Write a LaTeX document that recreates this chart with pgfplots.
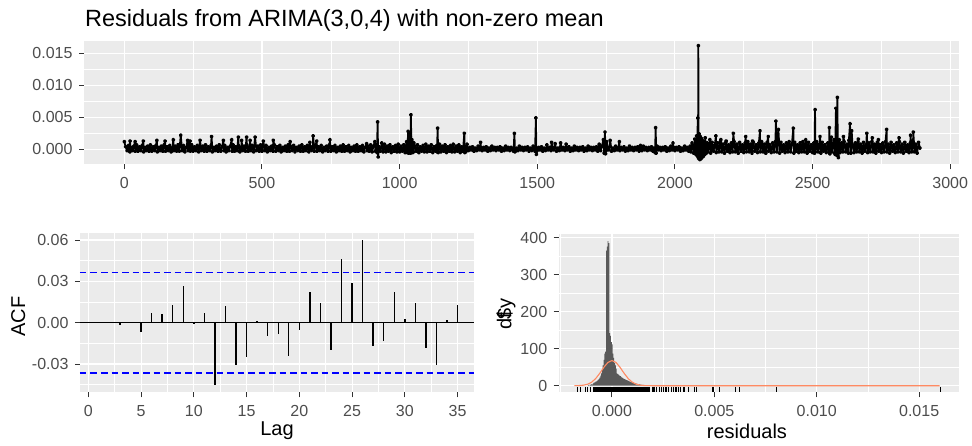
\documentclass[border=0pt]{standalone}
\usepackage{fontspec}
\setmainfont{Liberation Sans}
\usepackage{pgfplots}
\pgfplotsset{compat=1.18}
\definecolor{panelbg}{HTML}{EBEBEB}
\definecolor{tickc}{HTML}{333333}
\definecolor{ticklab}{HTML}{4D4D4D}
\definecolor{histc}{HTML}{595959}
\definecolor{normc}{HTML}{FF8A62}
\definecolor{acfblue}{HTML}{0000FF}
\pgfplotsset{
  gg/.style={
    scale only axis,
    axis background/.style={fill=panelbg},
    axis line style={draw=none},
    grid=both,
    major grid style={white, line width=1.1pt},
    minor grid style={white, line width=0.55pt},
    tick align=outside,
    tick pos=left,
    major tick length=5pt,
    minor tick length=0pt,
    tick style={draw=tickc, line width=1pt},
    ticklabel style={font=\fontsize{16}{18}\selectfont, text=ticklab},
    xticklabel style={yshift=-4.5pt},
    yticklabel style={xshift=-3pt},
    label style={font=\fontsize{20}{22}\selectfont, text=black},
    /pgf/number format/assume math mode=true,
    scaled ticks=false,
    clip=true,
  }
}
\begin{document}
\begin{tikzpicture}
\path[use as bounding box] (0,0) rectangle (972pt,446pt);
% ---------------- top panel: residual series ----------------
\begin{axis}[gg,
  at={(84pt,281.7pt)}, anchor=south west,
  width=875.3pt, height=123.6pt,
  xmin=-146.4, xmax=3033, ymin=-0.00234, ymax=0.01697,
  xtick={0,500,1000,1500,2000,2500,3000},
  xticklabels={0,500,1000,1500,2000,2500,3000},
  minor xtick={250,750,1250,1750,2250,2750},
  ytick={0,0.005,0.01,0.015},
  yticklabels={0.000,0.005,0.010,0.015},
  minor ytick={0.0025,0.0075,0.0125},
  title={Residuals from ARIMA(3,0,4) with non-zero mean},
  title style={at={(rel axis cs:0,1)}, anchor=base west, xshift=1pt, yshift=8pt,
    font=\fontsize{23.5}{26}\selectfont, inner sep=0pt},
]
\addplot[black, line width=1.8pt, line join=round, mark=*, mark size=1.1pt] coordinates {
(0,0.0012)(5,0.0004)(10,-0.0002)(15,0.0006)(20,-0.0004)(21,0.0013)(22,-0.0002)(25,0.0003)(30,-0.0002)(35,0.0005)(39,0.0012)(40,-0.0003)(45,0.0007)
(50,-0.0003)(55,0.0004)(60,-0.0002)(65,0.0006)(69,0.0013)(70,-0.0004)(75,0.0003)(80,-0.0002)(85,0.0005)(90,-0.0003)(95,0.0007)
(100,-0.0003)(105,0.0004)(110,-0.0002)(115,0.0006)(118,0.0014)(120,-0.0004)(125,0.0003)(130,-0.0002)(135,0.0005)(140,-0.0003)(145,0.0007)(148,0.0013)
(150,-0.0003)(155,0.0004)(160,-0.0002)(165,0.0006)(170,-0.0004)(175,0.0003)(178,0.0015)(180,-0.0002)(185,0.0005)(190,-0.0003)(195,0.0007)
(200,-0.0003)(205,0.0022)(210,-0.0002)(215,0.0006)(220,-0.0004)(225,0.0003)(230,0.0014)(232,-0.0002)(235,0.0005)(239,0.0013)(240,-0.0003)(245,0.0007)
(250,-0.0003)(255,0.0004)(260,-0.0002)(265,0.0006)(270,-0.0004)(275,0.0014)(280,-0.0002)(285,0.0005)(290,-0.0003)(295,0.0007)
(300,-0.0003)(305,0.0004)(310,-0.0002)(315,0.0006)(317,0.0020)(320,-0.0004)(325,0.0003)(330,-0.0002)(335,0.0005)(340,-0.0003)(345,0.0007)
(350,-0.0003)(355,0.0004)(360,0.0014)(362,-0.0002)(365,0.0006)(370,-0.0004)(375,0.0003)(380,-0.0002)(385,0.0005)(390,0.0015)(392,-0.0003)(395,0.0007)
(400,-0.0003)(405,0.0004)(410,-0.0002)(414,0.0019)(415,0.0006)(420,-0.0004)(425,0.0003)(426,0.0014)(430,-0.0002)(435,0.0005)(440,-0.0003)(444,0.0019)(445,0.0007)
(450,-0.0003)(455,0.0004)(457,0.0014)(460,-0.0002)(465,0.0006)(470,-0.0004)(475,0.0019)(480,-0.0002)(485,0.0005)(490,-0.0003)(495,0.0007)
(500,-0.0003)(505,0.0013)(510,-0.0002)(515,0.0006)(520,-0.0004)(525,0.0003)(530,-0.0002)(535,0.0005)(540,-0.0003)(541,0.0014)(545,0.0007)
(550,-0.0003)(555,0.0004)(560,-0.0002)(565,0.0006)(570,-0.0004)(575,0.0003)(580,-0.0002)(585,0.0005)(590,-0.0003)(595,0.0007)
(600,-0.0003)(602,0.0012)(605,0.0004)(610,-0.0002)(615,0.0006)(620,-0.0004)(625,0.0003)(630,-0.0002)(635,0.0005)(640,-0.0003)(645,0.0007)
(650,-0.0003)(655,0.0004)(660,-0.0002)(665,0.0006)(670,-0.0004)(674,0.0011)(675,0.0003)(680,-0.0002)(685,0.0005)(686,0.0021)(690,-0.0003)(695,0.0007)
(699,0.0013)(700,-0.0003)(705,0.0004)(710,-0.0002)(715,0.0006)(720,-0.0004)(725,0.0003)(730,-0.0002)(735,0.0005)(740,-0.0003)(745,0.0007)(747,0.0015)
(750,-0.0003)(755,0.0004)(760,-0.0002)(765,0.0006)(770,-0.0004)(775,0.0003)(780,-0.0002)(785,0.0005)(790,-0.0003)(795,0.0007)
(800,-0.0003)(805,0.0004)(810,-0.0002)(815,0.0006)(820,-0.0004)(825,0.0003)(830,-0.0002)(835,0.0005)(840,-0.0003)(845,0.0007)
(850,-0.0003)(855,0.0004)(860,-0.0002)(865,0.0006)(870,-0.0004)(875,0.0003)(880,0.0009)(882,-0.0002)(885,0.0005)(890,-0.0003)(895,0.0007)
(900,-0.0004)(905,0.0005)(910,0.0012)(912,-0.0003)(915,0.0007)(918,-0.0005)(920,0.0043)(922,-0.0012)(925,0.0004)(930,-0.0003)(935,0.0010)(940,-0.0004)(945,0.0008)
(950,-0.0004)(955,0.0005)(960,-0.0003)(965,0.0007)(970,-0.0005)(975,0.0004)(980,-0.0003)(985,0.0006)(990,-0.0004)(995,0.0008)
(1000,-0.0004)(1005,0.0005)(1010,-0.0003)(1015,0.0007)(1020,-0.0005)(1025,0.0012)(1028,-0.0005)(1031,0.0028)(1033,-0.0006)(1035,0.0025)(1037,-0.0005)(1039,0.0020)(1040,-0.0006)(1041,0.0054)(1043,-0.0004)(1045,0.0015)(1048,-0.0005)
(1050,-0.0004)(1052,0.0010)(1055,0.0005)(1060,-0.0003)(1065,0.0007)(1070,-0.0005)(1075,0.0004)(1080,-0.0003)(1085,0.0006)(1090,-0.0004)(1095,0.0008)
(1100,-0.0004)(1105,0.0005)(1110,-0.0003)(1115,0.0007)(1120,-0.0005)(1125,0.0004)(1130,-0.0003)(1135,0.0006)(1136,-0.0004)(1138,0.0033)(1140,-0.0005)(1145,0.0008)
(1150,-0.0004)(1155,0.0005)(1160,-0.0003)(1165,0.0007)(1170,-0.0005)(1175,0.0004)(1180,-0.0003)(1185,0.0006)(1190,-0.0004)(1195,0.0008)
(1200,-0.0004)(1205,0.0005)(1210,-0.0003)(1215,0.0007)(1220,-0.0005)(1225,0.0004)(1230,-0.0003)(1235,0.0025)(1237,-0.0005)(1240,-0.0004)(1245,0.0008)
(1250,-0.0002)(1255,0.0003)(1260,-0.0001)(1265,0.0004)(1270,-0.0003)(1275,0.0002)(1280,-0.0002)(1285,0.0005)(1290,-0.0001)(1294,0.0011)(1295,0.0003)
(1300,-0.0002)(1305,0.0003)(1310,-0.0001)(1315,0.0004)(1320,-0.0003)(1325,0.0002)(1330,-0.0002)(1335,0.0005)(1340,-0.0001)(1345,0.0003)
(1350,-0.0002)(1355,0.0003)(1360,-0.0001)(1365,0.0004)(1370,-0.0003)(1375,0.0002)(1380,-0.0002)(1385,0.0005)(1390,-0.0001)(1395,0.0003)
(1400,-0.0002)(1405,0.0003)(1410,-0.0001)(1414,-0.0003)(1417,0.0025)(1419,-0.0004)(1420,-0.0003)(1425,0.0002)(1430,-0.0002)(1435,0.0005)(1440,-0.0001)(1445,0.0003)
(1450,-0.0002)(1455,0.0003)(1460,-0.0001)(1465,0.0004)(1470,-0.0003)(1475,0.0002)(1480,-0.0002)(1485,0.0005)(1490,-0.0001)(1492,-0.0003)(1495,0.0049)(1497,-0.0008)
(1500,-0.0002)(1505,0.0003)(1510,-0.0001)(1515,0.0004)(1520,-0.0003)(1525,0.0002)(1530,-0.0002)(1535,0.0007)(1540,-0.0001)(1545,0.0003)
(1550,-0.0002)(1552,0.0011)(1555,0.0003)(1560,-0.0001)(1565,0.0009)(1570,-0.0003)(1575,0.0002)(1580,-0.0002)(1585,0.0010)(1590,-0.0001)(1595,0.0003)
(1600,-0.0002)(1605,0.0008)(1610,-0.0001)(1615,0.0004)(1620,-0.0003)(1625,0.0002)(1630,-0.0002)(1635,0.0005)(1640,-0.0001)(1645,0.0003)
(1650,-0.0002)(1655,0.0003)(1660,-0.0001)(1665,0.0004)(1670,-0.0003)(1675,0.0002)(1680,-0.0002)(1685,0.0005)(1690,-0.0001)(1695,0.0003)
(1700,-0.0002)(1705,0.0003)(1710,-0.0001)(1715,0.0004)(1720,-0.0003)(1725,0.0008)(1730,-0.0002)(1735,0.0005)(1740,0.0015)(1743,-0.0006)(1746,0.0027)(1748,-0.0007)
(1750,-0.0002)(1752,0.0012)(1755,0.0003)(1760,-0.0001)(1765,0.0014)(1770,-0.0003)(1775,0.0002)(1780,-0.0002)(1785,0.0005)(1790,-0.0001)(1795,0.0003)(1798,0.0012)
(1800,-0.0002)(1805,0.0003)(1810,-0.0001)(1815,0.0004)(1820,-0.0003)(1825,0.0002)(1830,-0.0002)(1835,0.0005)(1840,-0.0001)(1845,0.0003)
(1850,-0.0002)(1855,0.0003)(1860,-0.0001)(1865,0.0004)(1870,-0.0003)(1875,0.0006)(1880,-0.0002)(1885,0.0005)(1890,-0.0001)(1895,0.0003)
(1900,-0.0002)(1905,0.0003)(1910,-0.0001)(1915,0.0004)(1920,-0.0003)(1925,0.0002)(1928,-0.0005)(1930,0.0034)(1932,-0.0006)(1935,0.0005)(1940,-0.0001)(1945,0.0003)
(1950,-0.0002)(1955,0.0003)(1960,-0.0001)(1965,0.0004)(1970,-0.0003)(1975,0.0002)(1980,-0.0002)(1985,0.0005)(1990,-0.0001)(1993,0.0010)(1995,0.0003)
(2000,-0.0002)(2005,0.0003)(2010,-0.0001)(2015,0.0004)(2020,-0.0003)(2025,0.0002)(2030,-0.0002)(2035,0.0005)(2040,-0.0001)(2045,0.0003)
(2050,-0.0003)(2055,0.0005)(2058,-0.0004)(2062,0.0010)(2068,-0.0006)(2072,0.0016)(2076,-0.0008)(2079,0.0021)(2081,-0.0010)(2083,0.0049)(2084,-0.0012)(2085,0.0162)
(2086,-0.0014)(2088,0.0024)(2090,-0.0016)(2092,0.0020)(2094,-0.0015)(2096,0.0017)(2098,-0.0013)(2100,0.0014)(2103,-0.0011)(2106,0.0012)(2109,-0.0008)(2110,0.0018)(2114,-0.0006)
(2117,0.0010)(2120,-0.0004)(2125,0.0008)(2127,0.0015)(2130,-0.0006)(2135,0.0011)(2140,-0.0003)(2145,0.0007)(2149,0.0021)(2150,-0.0005)(2155,0.0010)(2160,-0.0004)(2165,0.0012)(2167,0.0015)
(2170,-0.0004)(2175,0.0008)(2180,-0.0006)(2185,0.0011)(2186,0.0013)(2190,-0.0003)(2195,0.0007)(2200,-0.0005)(2205,0.0010)(2210,-0.0004)(2212,0.0025)(2215,0.0012)
(2220,-0.0004)(2225,0.0008)(2230,-0.0006)(2235,0.0011)(2240,-0.0003)(2245,0.0007)(2250,-0.0005)(2255,0.0010)(2257,0.0020)(2260,-0.0004)(2265,0.0012)
(2270,-0.0004)(2275,0.0008)(2280,-0.0006)(2282,0.0013)(2285,0.0011)(2290,-0.0003)(2295,0.0007)(2300,-0.0005)(2305,0.0010)(2309,0.0029)(2310,-0.0004)(2315,0.0012)
(2320,-0.0004)(2325,0.0008)(2330,-0.0006)(2335,0.0011)(2339,0.0020)(2340,-0.0003)(2345,0.0007)(2350,-0.0005)(2355,0.0010)(2360,-0.0004)(2365,0.0012)(2367,0.0044)
(2370,-0.0004)(2373,0.0018)(2375,0.0008)(2376,0.0031)(2380,-0.0006)(2385,0.0011)(2390,-0.0003)(2395,0.0007)(2400,-0.0005)(2405,0.0010)(2410,-0.0004)(2415,0.0012)
(2420,-0.0004)(2425,0.0008)(2430,0.0033)(2432,-0.0006)(2435,0.0011)(2440,-0.0003)(2445,0.0007)(2450,-0.0005)(2455,0.0010)(2460,-0.0004)(2465,0.0012)
(2470,-0.0004)(2475,0.0015)(2480,-0.0006)(2485,0.0011)(2490,-0.0003)(2495,0.0007)(2500,-0.0005)(2505,0.0010)(2507,-0.0006)(2509,0.0062)(2510,-0.0004)(2515,0.0012)
(2520,-0.0004)(2525,0.0008)(2527,0.0020)(2530,-0.0006)(2535,0.0011)(2540,-0.0003)(2545,0.0007)(2550,-0.0005)(2555,0.0010)(2560,-0.0004)(2561,0.0034)(2563,-0.0007)(2565,0.0012)
(2568,0.0019)(2570,-0.0004)(2575,0.0008)(2578,0.0015)(2580,-0.0006)(2582,-0.0008)(2585,0.0064)(2587,-0.0009)(2590,0.0081)(2592,-0.0010)(2594,-0.0013)(2597,0.0015)(2600,-0.0005)(2605,0.0010)(2610,-0.0004)(2612,0.0020)(2615,0.0012)
(2620,-0.0004)(2625,0.0008)(2630,-0.0006)(2632,0.0014)(2636,0.0040)(2639,-0.0006)(2642,0.0029)(2645,0.0007)(2650,-0.0005)(2655,0.0010)(2660,-0.0004)(2665,0.0012)(2666,0.0016)
(2670,-0.0004)(2675,0.0008)(2680,-0.0006)(2685,0.0011)(2690,-0.0003)(2695,0.0007)(2697,0.0025)(2700,-0.0005)(2705,0.0010)(2710,-0.0004)(2715,0.0012)(2717,0.0018)
(2720,-0.0004)(2725,0.0008)(2730,-0.0006)(2735,0.0011)(2739,0.0015)(2740,-0.0003)(2745,0.0007)(2750,-0.0005)(2755,0.0010)(2760,-0.0004)(2765,0.0012)(2769,0.0031)
(2770,-0.0004)(2775,0.0008)(2780,-0.0006)(2785,0.0011)(2790,-0.0003)(2795,0.0007)(2800,-0.0005)(2805,0.0010)(2810,-0.0004)(2814,0.0018)(2815,0.0012)
(2820,-0.0004)(2825,0.0008)(2830,-0.0006)(2835,0.0011)(2840,-0.0003)(2845,0.0007)(2850,-0.0005)(2855,0.0010)(2856,0.0022)(2860,-0.0004)(2865,0.0012)(2866,0.0027)
(2870,-0.0004)(2875,0.0008)(2880,-0.0006)(2885,0.0011)(2890,0.0002)
};
\end{axis}
% ---------------- bottom left: ACF ----------------
\begin{axis}[gg,
  at={(80pt,53.7pt)}, anchor=south west,
  width=394pt, height=159pt,
  xmin=-0.79, xmax=36.56, ymin=-0.0505, ymax=0.0649,
  xtick={0,5,10,15,20,25,30,35},
  xticklabels={0,5,10,15,20,25,30,35},
  minor xtick={2.5,7.5,12.5,17.5,22.5,27.5,32.5},
  ytick={-0.03,0,0.03,0.06},
  yticklabels={-0.03,0.00,0.03,0.06},
  minor ytick={-0.045,-0.015,0.015,0.045},
  xlabel={Lag}, ylabel={ACF},
  xlabel style={at={(axis description cs:0.5,-0.24)}, anchor=center},
  ylabel style={at={(axis description cs:-0.157,0.475)}, anchor=center},
]
\addplot[black, line width=1.2pt, forget plot] coordinates {(-0.79,0)(36.56,0)};
\addplot[acfblue, line width=1.2pt, dash pattern=on 6.5pt off 4pt, forget plot] coordinates {(-0.79,0.0365)(36.56,0.0365)};
\addplot[acfblue, line width=1.2pt, dash pattern=on 6.5pt off 4pt, forget plot] coordinates {(-0.79,-0.0365)(36.56,-0.0365)};
\addplot[ycomb, black, line width=1.4pt, mark=none] coordinates {
(1,0)(2,0)(3,-0.002)(4,0)(5,-0.007)(6,0.007)(7,0.006)(8,0.013)(9,0.027)(10,-0.001)
(11,0.007)(12,-0.045)(13,0.012)(14,-0.031)(15,-0.025)(16,0.001)(17,-0.010)(18,-0.008)(19,-0.024)(20,-0.005)
(21,0.022)(22,0.014)(23,-0.020)(24,0.046)(25,0.029)(26,0.060)(27,-0.017)(28,-0.013)(29,0.022)(30,0.003)
(31,0.014)(32,-0.018)(33,-0.031)(34,0.002)(35,0.013)
};
\end{axis}
% ---------------- bottom right: histogram ----------------
\begin{axis}[gg,
  at={(558.7pt,53.7pt)}, anchor=south west,
  width=400.6pt, height=158.3pt,
  xmin=-0.0026, xmax=0.01696, ymin=-17.8, ymax=410,
  xtick={0,0.005,0.01,0.015},
  xticklabels={0.000,0.005,0.010,0.015},
  minor xtick={-0.0025,0.0025,0.0075,0.0125},
  ytick={0,100,200,300,400},
  yticklabels={0,100,200,300,400},
  minor ytick={50,150,250,350},
  xlabel={residuals}, ylabel={df\kern-0.32em\$y},
  xlabel style={at={(axis description cs:0.47,-0.249)}, anchor=center},
  ylabel style={at={(axis description cs:-0.1316,0.495)}, anchor=center},
]
\addplot[ybar interval, fill=histc, draw=none, forget plot] coordinates {
(-0.00117,2)(-0.00113,0)(-0.00109,3)(-0.00105,2)(-0.00101,4)(-0.00097,3)(-0.00093,6)(-0.00089,8)(-0.00085,9)(-0.00081,11)
(-0.00077,12)(-0.00073,14)(-0.00069,16)(-0.00065,18)(-0.00061,22)(-0.00057,27)(-0.00053,33)(-0.00049,42)(-0.00045,55)(-0.00041,70)
(-0.00037,87)(-0.00033,92)(-0.00029,365)(-0.00025,376)(-0.00021,391)(-0.00017,385)(-0.00013,142)(-0.00009,135)(-0.00005,118)(-0.00001,112)
(0.00003,87)(0.00007,75)(0.00011,62)(0.00015,55)(0.00019,46)(0.00023,33)(0.00027,31)(0.00031,29)(0.00035,27)(0.00039,26)
(0.00043,24)(0.00047,22)(0.00051,21)(0.00055,19)(0.00059,18)(0.00063,17)(0.00067,16)(0.00071,15)(0.00075,14)(0.00079,13)
(0.00083,12)(0.00087,11)(0.00091,10)(0.00095,9)(0.00099,9)(0.00103,8)(0.00107,7)(0.00111,7)(0.00115,6)(0.00119,5)
(0.00123,5)(0.00127,4)(0.00131,4)(0.00135,3)(0.00139,3)(0.00143,2)(0.00147,2)(0.00151,2)(0.00155,1)(0.00159,1)
(0.00163,1)(0.00167,1)(0.00171,1)(0.00175,0)(0.00179,0)
};
\addplot[normc, line width=1.1pt, forget plot] coordinates {
(-0.00184,0.08)(-0.0016,0.41)(-0.0014,1.35)(-0.0012,3.8)(-0.001,9.2)(-0.0008,18.9)(-0.0006,33.1)(-0.0004,49.4)(-0.0002,62.8)(0,68)
(0.0002,62.8)(0.0004,49.4)(0.0006,33.1)(0.0008,18.9)(0.001,9.2)(0.0012,3.8)(0.0014,1.35)(0.0016,0.41)(0.0018,0.08)(0.002,0.01)
(0.003,0)(0.016,0)
};
\addplot[fill=black, draw=none, forget plot] coordinates {
(-0.00094,-17.8)(0.00186,-17.8)(0.00186,-3.5)(-0.00094,-3.5)
} -- cycle;
\addplot[only marks, mark=|, mark size=2.65pt, mark options={line width=1pt, draw=black}, forget plot] coordinates {
(-0.00167,-10.6)(-0.00156,-10.6)(-0.00127,-10.6)(-0.00119,-10.6)(-0.00103,-10.6)
(0.00197,-10.6)(0.00202,-10.6)(0.0021,-10.6)(0.00218,-10.6)(0.0023,-10.6)(0.00234,-10.6)(0.00244,-10.6)(0.0025,-10.6)
(0.00259,-10.6)(0.00267,-10.6)(0.00275,-10.6)(0.00291,-10.6)(0.00299,-10.6)(0.00308,-10.6)(0.00313,-10.6)(0.00324,-10.6)
(0.00335,-10.6)(0.00348,-10.6)(0.00356,-10.6)(0.00373,-10.6)(0.00405,-10.6)(0.00414,-10.6)(0.00492,-10.6)(0.00498,-10.6)
(0.00527,-10.6)(0.00605,-10.6)(0.00625,-10.6)(0.00801,-10.6)(0.01602,-10.6)
};
\end{axis}
\end{tikzpicture}
\end{document}
